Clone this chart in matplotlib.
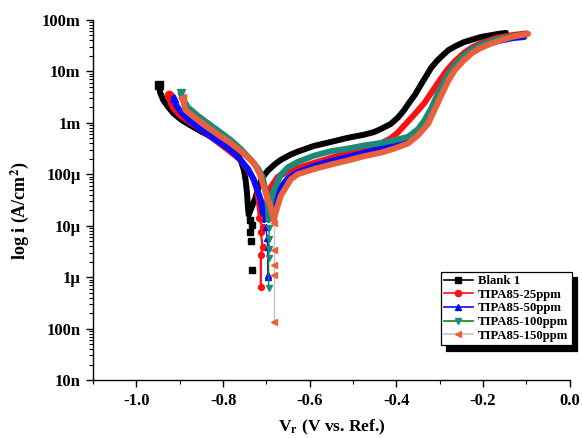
import matplotlib
matplotlib.use("Agg")
import matplotlib.pyplot as plt
from matplotlib.lines import Line2D
from matplotlib.ticker import MultipleLocator, LogLocator, FixedLocator, FixedFormatter
import numpy as np

# ---- Tafel polarisation data: potential (V vs. Ref.) and log10 current density (A/cm^2)
# Blank 1
V_BLANK = [-0.949, -0.945, -0.938, -0.926, -0.914, -0.895, -0.875, -0.850, -0.825, -0.799,
           -0.780, -0.766, -0.758, -0.752, -0.748, -0.745, -0.743, -0.741,
           -0.725, -0.718, -0.709, -0.697, -0.680, -0.667, -0.645, -0.628, -0.591, -0.551,
           -0.512, -0.475, -0.452, -0.436, -0.413, -0.397, -0.383, -0.370, -0.357, -0.343,
           -0.330, -0.320, -0.306, -0.290, -0.279, -0.262, -0.244, -0.225, -0.205, -0.185,
           -0.165, -0.147]
LOGI_BLANK = [-2.26, -2.42, -2.56, -2.70, -2.82, -2.95, -3.05, -3.17, -3.28, -3.39,
              -3.50, -3.62, -3.76, -3.92, -4.12, -4.35, -4.60, -4.79,
              -4.45, -4.22, -4.06, -3.93, -3.80, -3.72, -3.62, -3.56, -3.45, -3.37,
              -3.29, -3.23, -3.18, -3.12, -3.02, -2.90, -2.76, -2.60, -2.45, -2.25,
              -2.07, -1.93, -1.79, -1.66, -1.58, -1.50, -1.43, -1.38, -1.33, -1.30,
              -1.27, -1.25]
V_BLANK_ECORR = [-0.739, -0.734, -0.737, -0.736, -0.733]
LOGI_BLANK_ECORR = [-4.89, -4.99, -5.12, -5.30, -5.86]

# TIPA85-25ppm
V_25 = [-0.926, -0.922, -0.917, -0.900, -0.875, -0.850, -0.813, -0.785, -0.760, -0.742,
        -0.729, -0.722, -0.718, -0.713,
        -0.697, -0.690, -0.674, -0.650, -0.628, -0.591, -0.551, -0.512, -0.475, -0.436,
        -0.413, -0.397, -0.383, -0.360, -0.336, -0.320, -0.304, -0.290, -0.281, -0.265,
        -0.244, -0.225, -0.205, -0.185, -0.165, -0.130, -0.100]
LOGI_25 = [-2.46, -2.58, -2.69, -2.85, -3.00, -3.14, -3.37, -3.55, -3.72, -3.92,
           -4.11, -4.30, -4.50, -4.83,
           -4.50, -4.25, -4.05, -3.94, -3.88, -3.78, -3.68, -3.58, -3.49, -3.40,
           -3.30, -3.19, -3.06, -2.85, -2.62, -2.42, -2.22, -2.05, -1.95, -1.80,
           -1.64, -1.53, -1.45, -1.39, -1.34, -1.29, -1.26]
V_25_ECORR = [-0.718, -0.709, -0.713, -0.709, -0.713, -0.713]
LOGI_25_ECORR = [-4.85, -5.03, -5.12, -5.41, -5.57, -6.19]

# TIPA85-50ppm
V_50 = [-0.914, -0.908, -0.898, -0.880, -0.859, -0.835, -0.806, -0.780, -0.760, -0.742,
        -0.729, -0.713, -0.706,
        -0.683, -0.672, -0.651, -0.628, -0.591, -0.551, -0.512, -0.475, -0.436, -0.405,
        -0.373, -0.350, -0.327, -0.304, -0.290, -0.281, -0.265, -0.244, -0.225, -0.205,
        -0.185, -0.165, -0.130, -0.105]
LOGI_50 = [-2.52, -2.66, -2.78, -2.94, -3.08, -3.23, -3.39, -3.55, -3.72, -3.90,
           -4.11, -4.50, -4.89,
           -4.56, -4.31, -4.08, -3.96, -3.84, -3.74, -3.66, -3.58, -3.50, -3.42,
           -3.32, -3.16, -2.93, -2.55, -2.30, -2.15, -1.93, -1.74, -1.62, -1.53,
           -1.46, -1.41, -1.35, -1.33]
V_50_ECORR = [-0.701, -0.699, -0.697, -0.697, -0.697]
LOGI_50_ECORR = [-5.03, -5.24, -5.41, -5.96, -6.00]

# TIPA85-100ppm
V_100 = [-0.898, -0.892, -0.882, -0.860, -0.836, -0.810, -0.783, -0.760, -0.736, -0.720,
         -0.709, -0.697, -0.695,
         -0.690, -0.683, -0.667, -0.650, -0.628, -0.591, -0.551, -0.512, -0.475, -0.436,
         -0.405, -0.373, -0.350, -0.336, -0.320, -0.304, -0.290, -0.281, -0.265, -0.244,
         -0.225, -0.205, -0.185, -0.165, -0.130, -0.100]
LOGI_100 = [-2.42, -2.54, -2.69, -2.85, -3.00, -3.16, -3.33, -3.50, -3.72, -3.88,
            -4.05, -4.50, -4.89,
            -4.56, -4.31, -4.01, -3.86, -3.76, -3.64, -3.55, -3.50, -3.44, -3.39,
            -3.34, -3.27, -3.12, -2.96, -2.72, -2.42, -2.20, -2.06, -1.87, -1.69,
            -1.57, -1.48, -1.42, -1.37, -1.31, -1.27]
V_100_ECORR = [-0.693, -0.695, -0.694, -0.695, -0.695]
LOGI_100_ECORR = [-5.05, -5.25, -5.45, -5.63, -6.21]

# TIPA85-150ppm
V_150 = [-0.894, -0.890, -0.887, -0.862, -0.836, -0.810, -0.783, -0.755, -0.729, -0.715,
         -0.706, -0.690, -0.683,
         -0.679, -0.667, -0.644, -0.628, -0.591, -0.551, -0.512, -0.475, -0.436, -0.405,
         -0.373, -0.350, -0.327, -0.304, -0.290, -0.281, -0.265, -0.244, -0.225, -0.205,
         -0.185, -0.165, -0.130, -0.096]
LOGI_150 = [-2.52, -2.64, -2.75, -2.92, -3.08, -3.24, -3.39, -3.58, -3.78, -4.00,
            -4.25, -4.64, -4.89,
            -4.75, -4.42, -4.10, -4.00, -3.90, -3.81, -3.73, -3.65, -3.58, -3.50,
            -3.40, -3.24, -3.02, -2.60, -2.35, -2.19, -1.97, -1.78, -1.64, -1.54,
            -1.47, -1.41, -1.32, -1.27]
V_150_ECORR = [-0.683, -0.683, -0.683, -0.683, -0.683]
LOGI_150_ECORR = [-4.95, -5.47, -5.76, -5.96, -6.87]

LABELS = ["Blank 1", "TIPA85-25ppm", "TIPA85-50ppm", "TIPA85-100ppm", "TIPA85-150ppm"]
Y_TICK_VALUES = [1e-8, 1e-7, 1e-6, 1e-5, 1e-4, 1e-3, 1e-2, 1e-1]
Y_TICK_LABELS = ["10n", "100n", "1\u03bc", "10\u03bc", "100\u03bc", "1m", "10m", "100m"]

# ---- styling
SERIES = [
    (V_BLANK, LOGI_BLANK, V_BLANK_ECORR, LOGI_BLANK_ECORR),
    (V_25, LOGI_25, V_25_ECORR, LOGI_25_ECORR),
    (V_50, LOGI_50, V_50_ECORR, LOGI_50_ECORR),
    (V_100, LOGI_100, V_100_ECORR, LOGI_100_ECORR),
    (V_150, LOGI_150, V_150_ECORR, LOGI_150_ECORR),
]
MARKER_COLORS = ["#000000", "#ff1010", "#0a0aff", "#1b8a78", "#e8603c"]
LINE_COLORS = ["#000000", "#ff1010", "#0a0aff", "#108a10", "#c4c4c4"]
MARKERS = ["s", "o", "^", "v", "<"]
ECORR_LW = [0.0, 1.6, 1.0, 1.0, 1.0]

plt.rcParams["font.family"] = ["Liberation Serif", "DejaVu Serif"]
plt.rcParams["font.weight"] = "bold"
plt.rcParams["mathtext.fontset"] = "stix"
plt.rcParams["axes.unicode_minus"] = False

fig = plt.figure(figsize=(5.82, 4.38), dpi=100)
ax = fig.add_axes([0.160, 0.1324, 0.819, 0.8219])

for (v, lg, ve, lge), mc, lc, mk, elw in zip(SERIES, MARKER_COLORS, LINE_COLORS, MARKERS, ECORR_LW):
    cur = 10.0 ** np.asarray(lg)
    cur_e = 10.0 ** np.asarray(lge)
    # densely sampled branches appear as a thick band of markers
    ax.plot(v, cur, color=mc, lw=4.3, solid_capstyle="round", solid_joinstyle="round",
            marker=mk, markevery=[0], ms=6, mfc=mc, mec=mc, zorder=2)
    # scattered readings near the corrosion potential
    ax.plot(ve, cur_e, color=lc, lw=elw, marker=mk, ms=4.2, mfc=mc, mec=mc,
            linestyle="-" if elw > 0 else "none", zorder=3)

ax.set_yscale("log")
ax.set_xlim(-1.1, 0.0)
ax.set_ylim(1e-8, 1e-1)

ax.spines["top"].set_visible(False)
ax.spines["right"].set_visible(False)
for s in ("left", "bottom"):
    ax.spines[s].set_linewidth(1.0)

ax.xaxis.set_major_locator(MultipleLocator(0.2))
ax.xaxis.set_minor_locator(MultipleLocator(0.1))
ax.xaxis.set_major_formatter(plt.FuncFormatter(lambda x, p: "%.1f" % x))
ax.yaxis.set_major_locator(FixedLocator(Y_TICK_VALUES))
ax.yaxis.set_major_formatter(FixedFormatter(Y_TICK_LABELS))
ax.yaxis.set_minor_locator(LogLocator(base=10, subs=np.arange(2, 10), numticks=20))
ax.yaxis.set_minor_formatter(plt.NullFormatter())

ax.tick_params(axis="both", which="major", direction="out", length=5, width=1,
               labelsize=12, pad=4)
ax.tick_params(axis="both", which="minor", direction="out", length=3, width=0.8)
for t in ax.get_xticklabels() + ax.get_yticklabels():
    t.set_fontweight("bold")

ax.set_xlabel(r"V$_\mathbf{r}$ (V vs. Ref.)", fontsize=12.5, fontweight="bold", labelpad=6.5)
ax.set_ylabel(r"log i (A/cm$^\mathbf{2}$)", fontsize=13, fontweight="bold", labelpad=6)
ax.yaxis.set_label_coords(-0.13, 0.47)

handles = [Line2D([], [], color=lc, lw=1.2, marker=mk, ms=4.5, mfc=mc, mec=mc)
           for mc, lc, mk in zip(MARKER_COLORS, LINE_COLORS, MARKERS)]
leg = fig.legend(handles, LABELS, loc="upper left", bbox_to_anchor=(0.757, 0.380),
                 borderaxespad=0, fancybox=False, frameon=True, framealpha=1,
                 edgecolor="black", prop={"family": "Liberation Serif", "weight": "bold", "size": 9.2},
                 handlelength=2.2, handletextpad=0.4, labelspacing=0.12, borderpad=0.3,
                 shadow={"ox": 3.8, "oy": -3.8, "color": "black", "alpha": 1})
leg.get_frame().set_linewidth(0.9)

fig.savefig("out.png", dpi=100)
